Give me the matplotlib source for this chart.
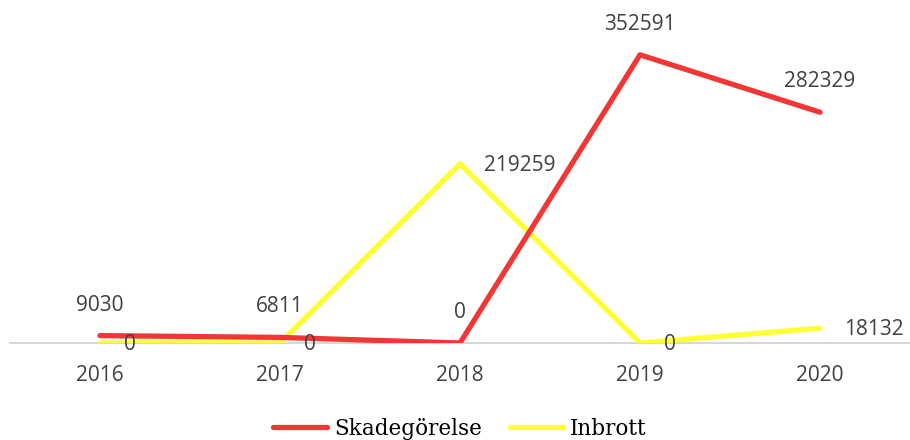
import matplotlib.pyplot as plt

years = ["2016", "2017", "2018", "2019", "2020"]
skadegorelse = [9030, 6811, 0, 352591, 282329]
inbrott = [0, 0, 219259, 0, 18132]

RED = "#F23535"
YELLOW = "#FFFF33"
TEXT = "#404040"

fig = plt.figure(figsize=(9.1, 4.4), dpi=100)
ax = fig.add_axes([0.011, 0.2205, 0.989, 0.743])

x = list(range(len(years)))
ax.plot(x, skadegorelse, color=RED, linewidth=3.8, solid_capstyle="round",
        label="Skadegörelse", zorder=3)
ax.plot(x, inbrott, color=YELLOW, linewidth=3.8, solid_capstyle="round",
        label="Inbrott", zorder=2)

font = "Open Sans"
for i, v in enumerate(skadegorelse):
    ax.annotate(str(v), (i, v), xytext=(0, 22), textcoords="offset points",
                ha="center", va="center", fontsize=15, color=TEXT, family=font)
for i, v in enumerate(inbrott):
    ax.annotate(str(v), (i, v), xytext=(17, -1), textcoords="offset points",
                ha="left", va="center", fontsize=15, color=TEXT, family=font)

ax.set_xlim(-0.5, 4.5)
ax.set_ylim(0, 400000)
ax.set_xticks(x)
ax.set_xticklabels(years, family=font, fontsize=15, color=TEXT)
ax.tick_params(axis="x", length=0, pad=16)
ax.set_yticks([])
for side in ["top", "right", "left"]:
    ax.spines[side].set_visible(False)
ax.spines["bottom"].set_color("#D0D0D0")
ax.spines["bottom"].set_linewidth(1.2)
ax.spines["bottom"].set_zorder(1)

leg = ax.legend(loc="lower center", bbox_to_anchor=(0.5, -0.355), ncol=2,
                frameon=False, handlelength=2.5, handletextpad=0.3,
                columnspacing=1.3,
                prop={"family": "DejaVu Serif", "size": 15.5})

fig.savefig("out.png", dpi=100)
